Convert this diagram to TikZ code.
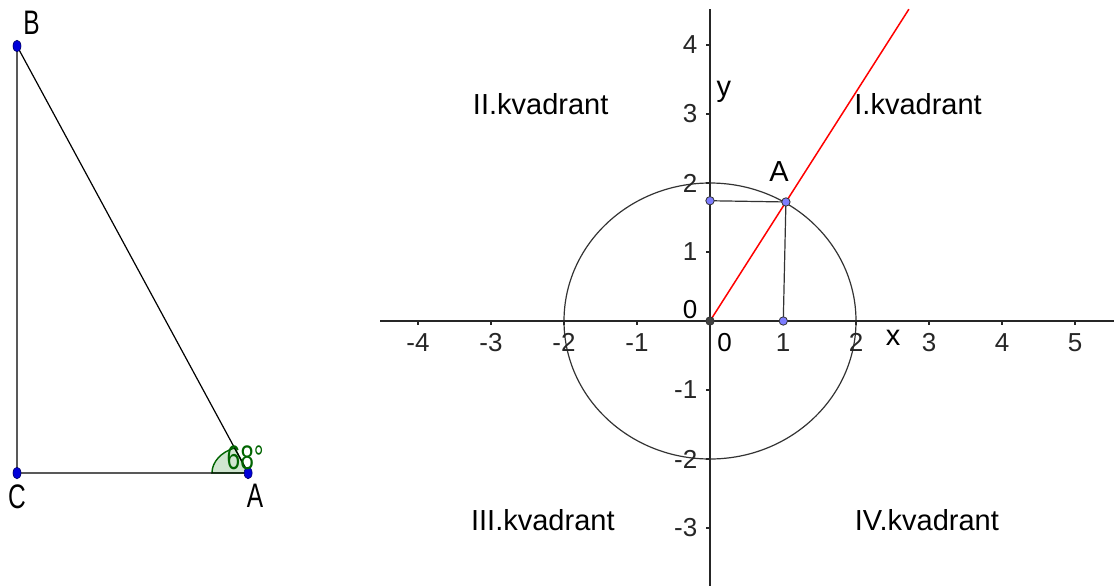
\documentclass[tikz,border=0pt]{standalone}
\usepackage{fontspec}
\setmainfont{Liberation Sans}
\newfontfamily\narrowsans[FakeStretch=0.72]{Liberation Sans}
\usepackage{tikz}
\usetikzlibrary{positioning,calc}
\definecolor{ptblue}{RGB}{125,125,255}
\definecolor{angfill}{RGB}{208,230,208}
\definecolor{anggreen}{RGB}{0,100,0}

\begin{document}
\begin{tikzpicture}[x=0.5pt, y=0.5pt,
    axis/.style={black!85, line width=0.7pt},
    seg/.style={black!80, line width=0.6pt},
    dot/.style={fill=ptblue, draw=black!80, line width=0.4pt},
    quadlabel/.style={font=\fontsize{14.5}{17}\selectfont, inner sep=0pt},
    ticklabel/.style={font=\fontsize{13}{15}\selectfont, inner sep=0pt},
    trilabel/.style={font=\narrowsans\fontsize{17}{20}\selectfont, inner sep=0pt}]
    \useasboundingbox (0,0) rectangle (1114,586);

    % triangle
    \begin{scope}[shift={(17,113)}, x=0.67pt, y=0.5pt]
    \coordinate (C) at (0,0);
    \coordinate (A) at (172.5,0);
    \coordinate (B) at (0,427);
    \filldraw[fill=angfill, draw=anggreen, line width=0.7pt] (A) -- ++(180:27) arc[start angle=180, end angle=112, radius=27] -- cycle;
    \draw[seg, black] (B) -- (C) -- (A) -- cycle;
    \filldraw[fill=blue!85!black, draw=blue!40!black, line width=0.3pt] (B) ellipse[x radius=2pt, y radius=2.9pt];
    \filldraw[fill=blue!85!black, draw=blue!40!black, line width=0.3pt] (C) ellipse[x radius=2pt, y radius=2.9pt];
    \filldraw[fill=blue!85!black, draw=blue!40!black, line width=0.3pt] (A) ellipse[x radius=2pt, y radius=2.9pt];
    \node[trilabel, above right=5.5pt and 3pt of B] (labB) {B};
    \node[trilabel, below=5.5pt of C] (labC) {C};
    \node[trilabel, below=5.5pt of A, xshift=3.5pt] (labA) {A};
    \node[trilabel, text=anggreen] (ang) at ([shift={(-1.5pt,7.5pt)}]A) {68°};
    \end{scope}

    % coordinate system
    \begin{scope}[shift={(710,265)}, x=36.5pt, y=34.5pt]
    \coordinate (O) at (0,0);
    \coordinate (P) at (1.04,1.725);
    \coordinate (Py) at (0,1.743);
    \coordinate (Px) at (1.004,0);

    \draw[seg] (O) circle[radius=2];

    \draw[axis] (-4.52,0) -- (5.53,0);
    \draw[axis] (0,-3.84) -- (0,4.52);

    \draw[axis] (-4,0) -- (-4,-0.058) node[ticklabel, below=4pt] (xm4) {-4};
    \draw[axis] (-3,0) -- (-3,-0.058) node[ticklabel, below=4pt] (xm3) {-3};
    \draw[axis] (-2,0) -- (-2,-0.058) node[ticklabel, below=4pt] (xm2) {-2};
    \draw[axis] (-1,0) -- (-1,-0.058) node[ticklabel, below=4pt] (xm1) {-1};
    \draw[axis] (1,0) -- (1,-0.058) node[ticklabel, below=4pt] (x1) {1};
    \draw[axis] (2,0) -- (2,-0.058) node[ticklabel, below=4pt] (x2) {2};
    \draw[axis] (3,0) -- (3,-0.058) node[ticklabel, below=4pt] (x3) {3};
    \draw[axis] (4,0) -- (4,-0.058) node[ticklabel, below=4pt] (x4) {4};
    \draw[axis] (5,0) -- (5,-0.058) node[ticklabel, below=4pt] (x5) {5};
    \node[ticklabel] (x0) at (0.2,-0.31) {0};

    \draw[axis] (0,4) -- (-0.055,4) node[ticklabel, left=4pt] (y4) {4};
    \draw[axis] (0,3) -- (-0.055,3) node[ticklabel, left=4pt] (y3) {3};
    \draw[axis] (0,2) -- (-0.055,2) node[ticklabel, left=4pt] (y2) {2};
    \draw[axis] (0,1) -- (-0.055,1) node[ticklabel, left=4pt] (y1) {1};
    \draw[axis] (0,-1) -- (-0.055,-1) node[ticklabel, left=4pt] (ym1) {-1};
    \draw[axis] (0,-2) -- (-0.055,-2) node[ticklabel, left=4pt] (ym2) {-2};
    \draw[axis] (0,-3) -- (-0.055,-3) node[ticklabel, left=4pt] (ym3) {-3};
    \node[ticklabel] (y0) at (-0.274,0.16) {0};

    \node[quadlabel] (labx) at (2.507,-0.246) {x};
    \node[quadlabel] (laby) at (0.19,3.32) {y};

    \draw[red, line width=0.75pt] (O) -- ($(O)!2.62!(P)$);
    \draw[seg] (Py) -- (P) -- (Px);

    \filldraw[dot] (Py) circle[radius=2.1pt];
    \filldraw[dot] (Px) circle[radius=2.1pt];
    \filldraw[dot] (P) circle[radius=2.1pt];
    \filldraw[dot, fill=black!75] (O) circle[radius=2.1pt];
    \node[quadlabel] (labP) at ([shift={(-3.5pt,15pt)}]P) {A};

    \node[quadlabel] (q2) at (-2.32,3.14) {II.kvadrant};
    \node[quadlabel] (q1) at (2.85,3.14) {I.kvadrant};
    \node[quadlabel] (q3) at (-2.29,-2.88) {III.kvadrant};
    \node[quadlabel] (q4) at (2.97,-2.88) {IV.kvadrant};
    \end{scope}
\end{tikzpicture}
\end{document}
